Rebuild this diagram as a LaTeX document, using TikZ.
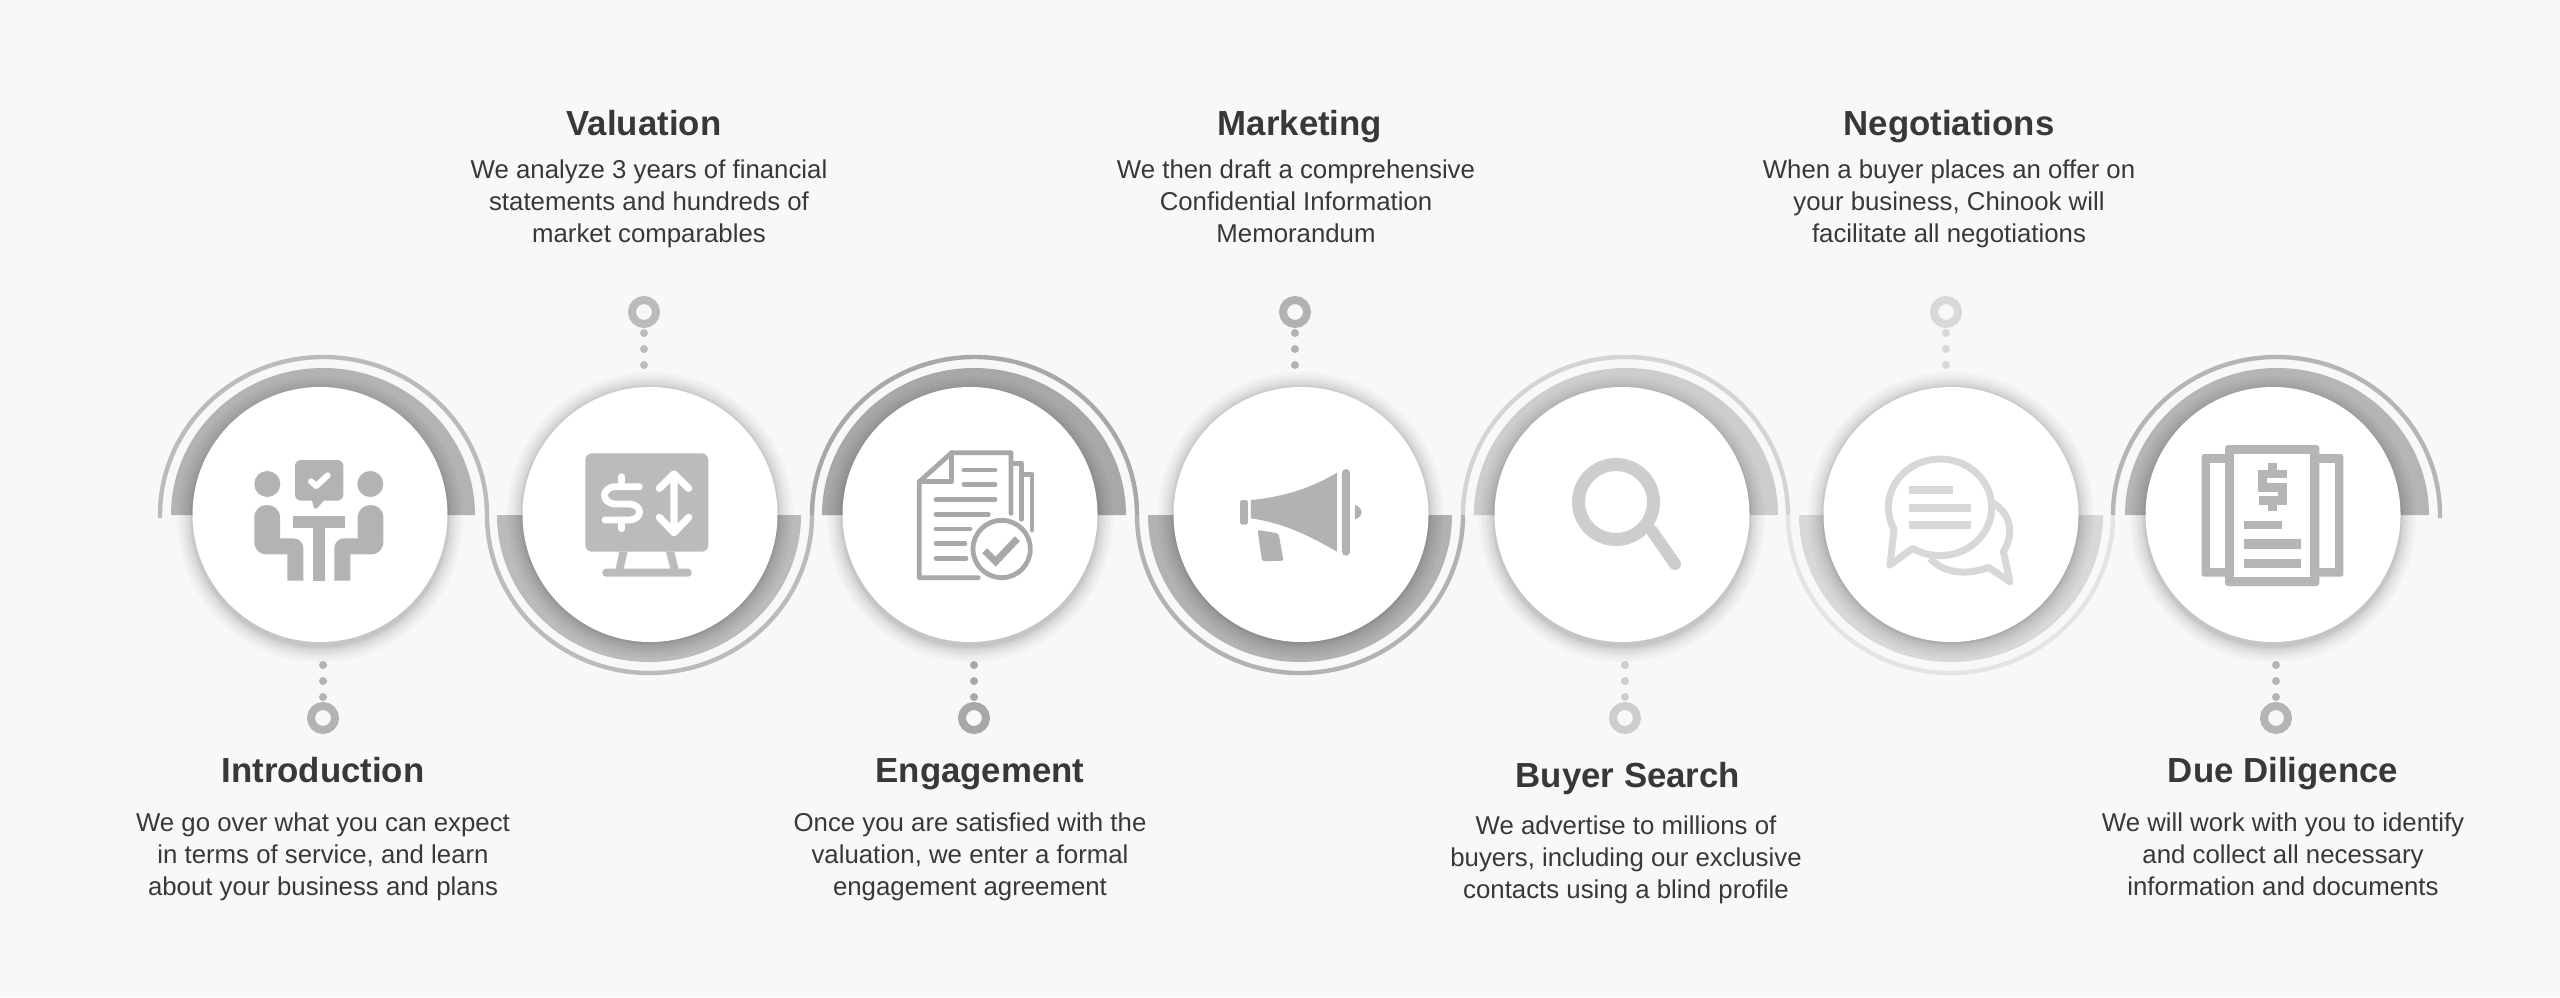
\documentclass[tikz,border=0pt]{standalone}
\usepackage{fontspec}
\setmainfont{Liberation Sans}
\definecolor{bgc}{HTML}{F8F8F8}
\definecolor{txt}{HTML}{383838}
\definecolor{ca}{HTML}{B3B3B3}
\definecolor{cb}{HTML}{BBBBBB}
\definecolor{cc}{HTML}{A8A8A8}
\definecolor{cd}{HTML}{B2B2B2}
\definecolor{ce}{HTML}{CDCDCD}
\definecolor{cf}{HTML}{D8D8D8}
\definecolor{cg}{HTML}{B5B5B5}
\tikzset{
  disc/.style={circle,fill=white,minimum size=127.5pt,inner sep=0pt},
  ringpin/.style={circle,draw=#1,fill=bgc,line width=4pt,minimum size=12pt,inner sep=0pt},
  dotpin/.style={circle,fill=#1,minimum size=4pt,inner sep=0pt},
  heading/.style={font=\fontsize{17.4}{21}\selectfont\bfseries,text=txt,inner sep=0pt,anchor=base},
  para/.style={font=\fontsize{12.9}{16}\selectfont,text=txt,align=center,inner sep=0pt,anchor=base},
  wave/.style={line width=2.2pt,line cap=butt}
}
\begin{document}
\begin{tikzpicture}[x=.5pt,y=-.5pt]
\useasboundingbox (0,0) rectangle (2560,997);
\fill[bgc] (0,0) rectangle (2560,997);
% wave line
\draw[wave,draw=cb] (160,518) -- (160,515) arc[start angle=180,end angle=360,x radius=163.5,y radius=158];
\draw[wave,draw=cb] (487,515) arc[start angle=180,end angle=0,x radius=162.5,y radius=158];
\draw[wave,draw=cc] (812,515) arc[start angle=180,end angle=360,x radius=162.5,y radius=158];
\draw[wave,draw=cd] (1137,515) arc[start angle=180,end angle=0,x radius=163,y radius=158];
\draw[wave,draw=ce!85!white] (1463,515) arc[start angle=180,end angle=360,x radius=162.5,y radius=158];
\draw[wave,draw=cf!70!white] (1788,515) arc[start angle=180,end angle=0,x radius=162.5,y radius=158];
\draw[wave,draw=cg] (2113,515) arc[start angle=180,end angle=360,x radius=163.5,y radius=158] -- (2440,518);
% bands
\fill[ca] (171,515) arc[start angle=180,end angle=360,x radius=152,y radius=147] -- cycle;
\fill[cb] (497,515) arc[start angle=180,end angle=0,x radius=152,y radius=147] -- cycle;
\fill[cc] (822,515) arc[start angle=180,end angle=360,x radius=152,y radius=147] -- cycle;
\fill[cd] (1148,515) arc[start angle=180,end angle=0,x radius=152,y radius=147] -- cycle;
\fill[ce] (1474,515) arc[start angle=180,end angle=360,x radius=152,y radius=147] -- cycle;
\fill[cf] (1799,515) arc[start angle=180,end angle=0,x radius=152,y radius=147] -- cycle;
\fill[cg] (2125,515) arc[start angle=180,end angle=360,x radius=152,y radius=147] -- cycle;
% shadows
\foreach \cx/\cy in {320/519,650/515,970/519,1301/515,1622/519,1951/515,2273/519}{
  \foreach \r in {1,2,3,4,6,8,10,13,16}{
    \fill[black,opacity=.022] (\cx,\cy) circle[radius=127+\r];
  }
}
% discs
\node[disc] (c1) at (320,514.5) {};
\node[disc] (c2) at (650,514.5) {};
\node[disc] (c3) at (970,514.5) {};
\node[disc] (c4) at (1301,514.5) {};
\node[disc] (c5) at (1622,514.5) {};
\node[disc] (c6) at (1951,514.5) {};
\node[disc] (c7) at (2273,514.5) {};
% pins
\node[ringpin=ca] (r1) at (323,718) {};
\node[dotpin=ca] (d11) at (323,665) {};
\node[dotpin=ca] (d12) at (323,681) {};
\node[dotpin=ca] (d13) at (323,697) {};
\node[ringpin=cb] (r2) at (644,312) {};
\node[dotpin=cb] (d21) at (644,333) {};
\node[dotpin=cb] (d22) at (644,349) {};
\node[dotpin=cb] (d23) at (644,365) {};
\node[ringpin=cc] (r3) at (974,718) {};
\node[dotpin=cc] (d31) at (974,665) {};
\node[dotpin=cc] (d32) at (974,681) {};
\node[dotpin=cc] (d33) at (974,697) {};
\node[ringpin=cd] (r4) at (1295,312) {};
\node[dotpin=cd] (d41) at (1295,333) {};
\node[dotpin=cd] (d42) at (1295,349) {};
\node[dotpin=cd] (d43) at (1295,365) {};
\node[ringpin=ce] (r5) at (1625,718) {};
\node[dotpin=ce] (d51) at (1625,665) {};
\node[dotpin=ce] (d52) at (1625,681) {};
\node[dotpin=ce] (d53) at (1625,697) {};
\node[ringpin=cf] (r6) at (1946,312) {};
\node[dotpin=cf] (d61) at (1946,333) {};
\node[dotpin=cf] (d62) at (1946,349) {};
\node[dotpin=cf] (d63) at (1946,365) {};
\node[ringpin=cg] (r7) at (2276,718) {};
\node[dotpin=cg] (d71) at (2276,665) {};
\node[dotpin=cg] (d72) at (2276,681) {};
\node[dotpin=cg] (d73) at (2276,697) {};
% icon 1
\begin{scope}[shift={(230,430)},scale=1/3]
\fill[ca] (112,162) circle[radius=39];
\fill[ca] (421,162) circle[radius=39];
\fill[ca,rounded corners=3pt] (195,90) rectangle (340,212);
\fill[ca,line join=round] (245,208) -- (252,234) -- (260,236) -- (285,208) -- cycle;
\draw[white,line width=3pt,line cap=round,line join=round] (243,154) -- (259,168) -- (293,136);
\fill[ca] (188,257) rectangle (345,293);
\fill[ca] (248,293) rectangle (285,452);
\def\bodyone{(73,262) .. controls (73,240) and (90,225) .. (111,225) .. controls (132,225) and (150,240) .. (150,262) -- (150,325) -- (190,325) .. controls (208,325) and (220,338) .. (220,355) -- (220,452) -- (172,452) -- (172,373) -- (110,373) .. controls (88,373) and (73,358) .. (73,335) -- cycle}
\fill[ca] \bodyone;
\begin{scope}[shift={(533,0)},xscale=-1]
\fill[ca] \bodyone;
\end{scope}
\end{scope}
% icon 2
\begin{scope}[shift={(560,430)},scale=1/3]
\fill[cb,rounded corners=3.3pt] (76,70) rectangle (445,365);
\draw[white,line width=3.4pt,line cap=round,line join=round] (238,170) -- (168,170) .. controls (122,170) and (122,222) .. (168,222) -- (205,222) .. controls (250,222) and (250,270) .. (205,270) -- (135,270);
\draw[white,line width=3.4pt,line cap=round] (185,140) -- (185,170) (185,270) -- (185,296);
\draw[white,line width=3.6pt,line cap=round,line join=round] (342,132) -- (342,308) (298,175) -- (342,132) -- (386,175) (298,262) -- (342,308) -- (386,262);
\fill[cb] (178,365) -- (203,365) -- (190,420) -- (166,420) -- cycle;
\fill[cb] (318,365) -- (343,365) -- (356,420) -- (332,420) -- cycle;
\fill[cb,rounded corners=1.8pt] (127,416) rectangle (395,440);
\end{scope}
% icon 3
\begin{scope}[shift={(880,430)},scale=1/3]
\begin{scope}[cc,line width=2.4pt,line cap=round,line join=round]
\draw (295,443) -- (118,443) -- (118,155) -- (215,68) -- (393,68) -- (393,250);
\draw (118,155) -- (215,155) -- (215,68);
\draw (393,100) -- (425,100) -- (425,268);
\draw (425,133) -- (456,133) -- (456,300);
\draw (252,120) -- (345,120) (252,164) -- (345,164) (168,209) -- (345,209) (168,253) -- (325,253) (168,297) -- (270,297) (168,341) -- (255,341) (168,385) -- (258,385);
\draw (365,357) circle[radius=86];
\end{scope}
\draw[cc,line width=3.5pt] (314,362) -- (347,395) -- (412,326);
\end{scope}
% icon 4
\begin{scope}[shift={(800,330)},xscale=1/2.24,yscale=1/3]
\fill[cd,rounded corners=1pt] (986,510) rectangle (1003,584);
\fill[cd] (1010,510) .. controls (1090,500) and (1150,470) .. (1203,428) -- (1203,665) .. controls (1150,625) and (1090,580) .. (1010,565) -- cycle;
\fill[cd,rounded corners=2pt] (1214,417) rectangle (1232,677);
\fill[cd] (1243,525) .. controls (1252,528) and (1258,538) .. (1258,547) .. controls (1258,556) and (1252,565) .. (1243,568) -- cycle;
\fill[cd,rounded corners=1pt] (1025,600) -- (1072,610) -- (1083,692) -- (1035,694) -- cycle;
\end{scope}
% icon 5
\draw[ce,line width=6.5pt] (1616,502) circle[radius=37.5];
\draw[ce,line width=6pt,line cap=round] (1652,531) -- (1675,564);
% icon 6
\begin{scope}[shift={(1860,430)},scale=1/3]
\begin{scope}[cf,line width=3.5pt,line join=round]
\draw (158,355) arc[start angle=122,end angle=-207,x radius=155,y radius=145] -- (90,405) -- cycle;
\draw (210,385) .. controls (260,440) and (340,430) .. (385,412) -- (450,455) -- (430,365) .. controls (465,310) and (450,250) .. (400,220);
\end{scope}
\fill[cf] (148,167) rectangle (280,192);
\fill[cf] (148,222) rectangle (332,246);
\fill[cf] (148,272) rectangle (332,297);
\end{scope}
% icon 7
\begin{scope}[shift={(2180,430)},scale=1/3]
\fill[cg,rounded corners=1.2pt] (65,72) rectangle (490,440);
\fill[white] (90,100) rectangle (465,413);
\fill[cg,rounded corners=1.5pt] (135,45) rectangle (418,468);
\fill[white] (162,72) rectangle (390,442);
\draw[cg,line width=4.2pt,line join=miter] (320,132) -- (247,132) -- (247,172) -- (308,172) -- (308,212) -- (236,212);
\draw[cg,line width=4.6pt] (277,100) -- (277,132) (277,212) -- (277,243);
\fill[cg] (192,272) rectangle (305,298);
\fill[cg] (192,328) rectangle (362,358);
\fill[cg] (192,386) rectangle (362,414);
\end{scope}
% text
\node[heading] (t1) at (323,782.5) {Introduction};
\node[para] (p1) at (323,895) {We go over what you can expect\\in terms of service, and learn\\about your business and plans};
\node[heading] (t2) at (644,135) {Valuation};
\node[para] (p2) at (649,242) {We analyze 3 years of financial\\statements and hundreds of\\market comparables};
\node[heading] (t3) at (980,782.5) {Engagement};
\node[para] (p3) at (970,895) {Once you are satisfied with the\\valuation, we enter a formal\\engagement agreement};
\node[heading] (t4) at (1300,135) {Marketing};
\node[para] (p4) at (1296,242) {We then draft a comprehensive\\Confidential Information\\Memorandum};
\node[heading] (t5) at (1628,787.5) {Buyer Search};
\node[para] (p5) at (1626,898) {We advertise to millions of\\buyers, including our exclusive\\contacts using a blind profile};
\node[heading] (t6) at (1949,135) {Negotiations};
\node[para] (p6) at (1949,242) {When a buyer places an offer on\\your business, Chinook will\\facilitate all negotiations};
\node[heading] (t7) at (2283,782.5) {Due Diligence};
\node[para] (p7) at (2283,895) {We will work with you to identify\\and collect all necessary\\information and documents};
\end{tikzpicture}
\end{document}
